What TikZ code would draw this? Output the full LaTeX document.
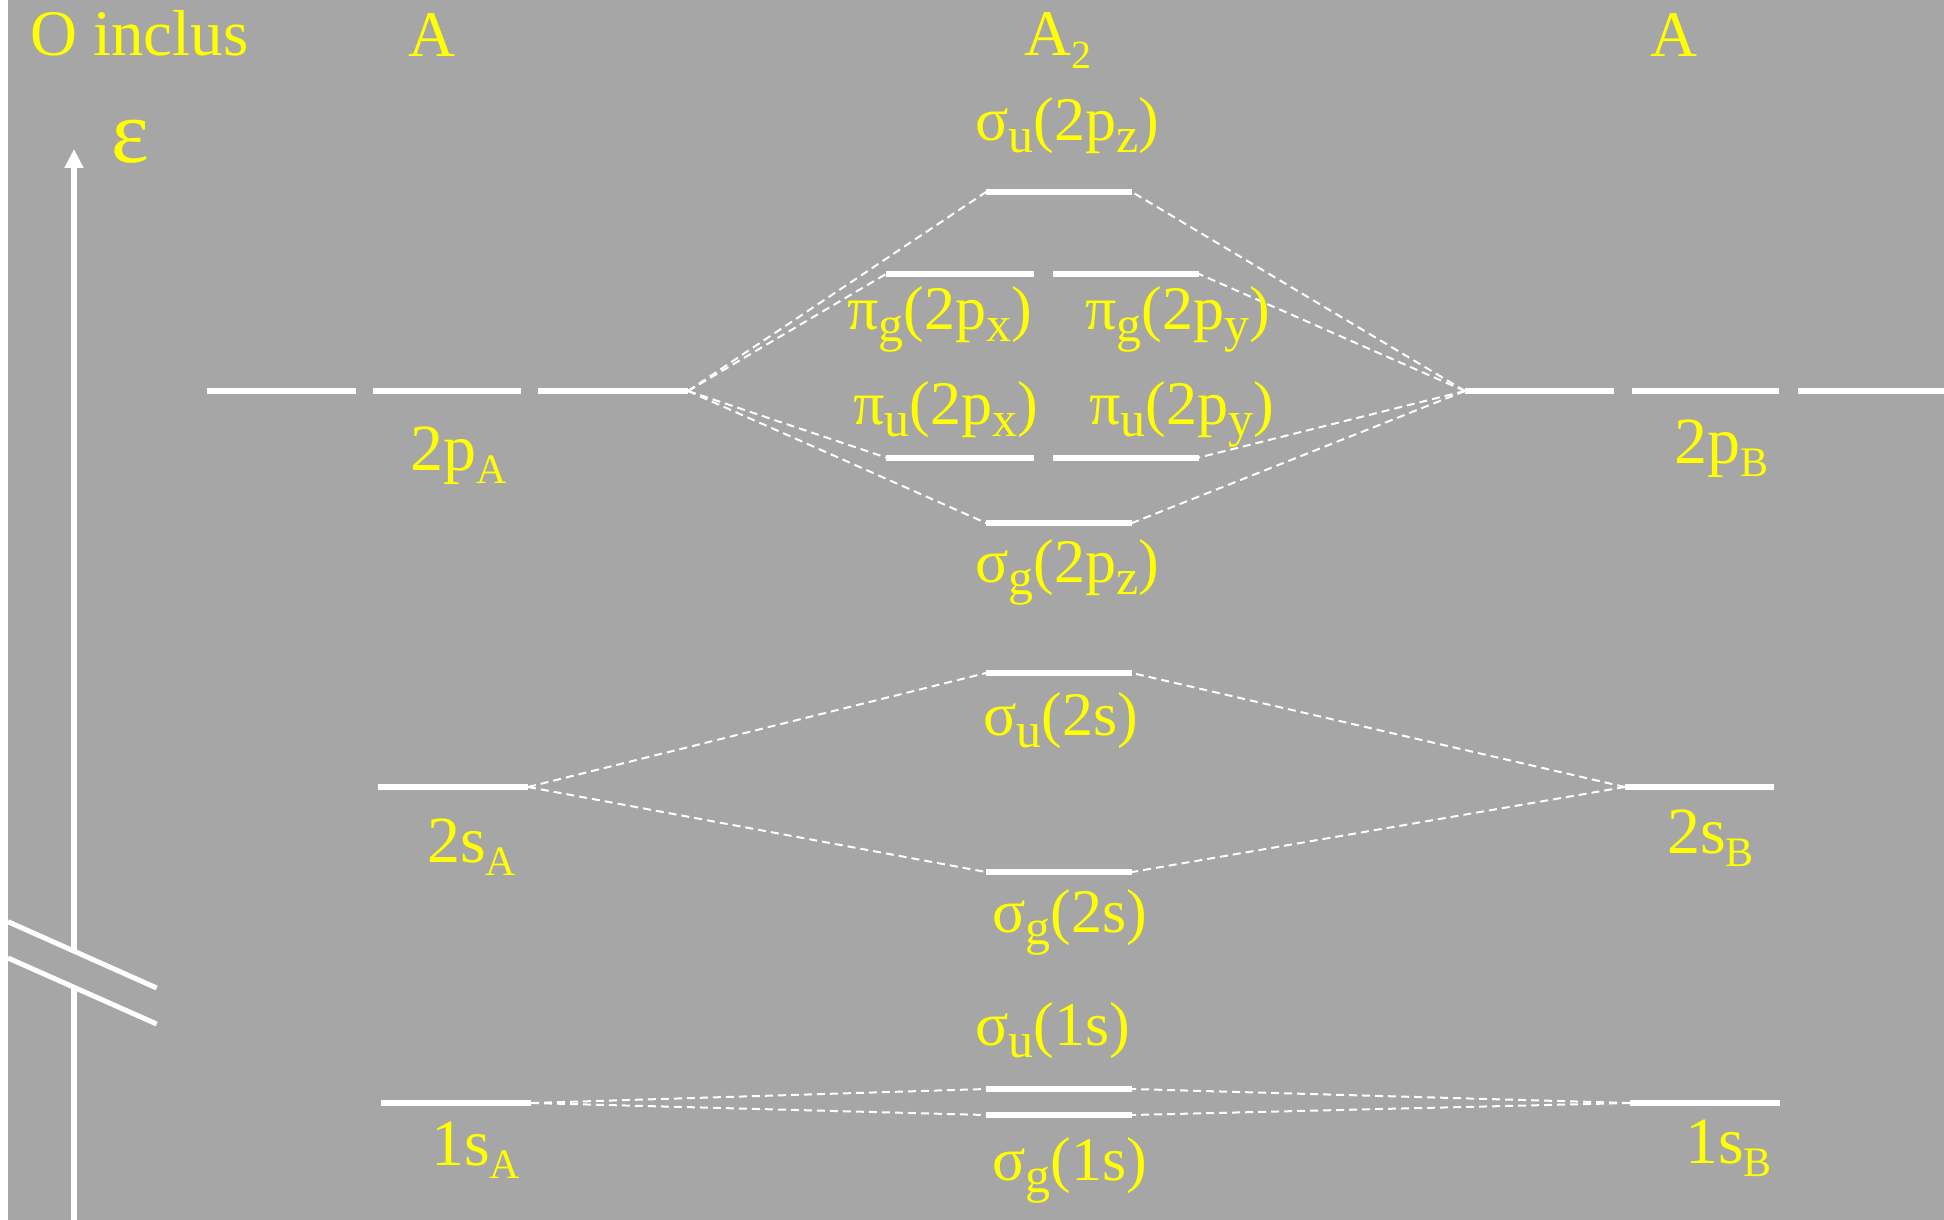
\documentclass[tikz,border=0pt]{standalone}
\usepackage{fontspec}
\setmainfont{Liberation Serif}
\usetikzlibrary{arrows.meta}

\definecolor{bggray}{RGB}{166,166,166}
\definecolor{yel}{RGB}{255,255,0}

% subscripts for the three text sizes
\newcommand\tsub[1]{\raisebox{-13pt}{\fontsize{40}{40}\selectfont #1}}
\newcommand\asub[1]{\raisebox{-13pt}{\fontsize{42}{42}\selectfont #1}}
\newcommand\msub[1]{\raisebox{-12pt}{\fontsize{50}{50}\selectfont #1}}

\tikzset{
  level/.style={draw=white, line width=6pt},
  link/.style={draw=white, line width=2pt, dash pattern=on 8pt off 5pt},
  title/.style={text=yel, inner sep=0pt, font=\fontsize{65}{70}\selectfont},
  aolabel/.style={text=yel, inner sep=0pt, anchor=base west, font=\fontsize{66}{68}\selectfont},
  molabel/.style={text=yel, inner sep=0pt, anchor=base west, font=\fontsize{62}{64}\selectfont},
}

\begin{document}
\begin{tikzpicture}[x=1pt, y=-1pt]
\useasboundingbox (0,0) rectangle (1944,1220);
\fill[white] (0,0) rectangle (1944,1220);
\fill[bggray] (8,0) rectangle (1944,1220);

% energy axis with its break
\coordinate (axtop) at (74,149);
\coordinate (axbrk1) at (74,951);
\coordinate (axbrk2) at (74,987.5);
\coordinate (axbot) at (74,1220);
\draw[white, line width=6pt, -{Triangle[length=19pt,width=18pt]}] (axbrk1) -- (axtop);
\draw[white, line width=6pt] (axbot) -- (axbrk2);
\draw[white, line width=5pt] (8,921.7) -- (156.7,988);
\draw[white, line width=5pt] (8,958) -- (156.7,1024);

% titles
\node[title, anchor=base west] (tO) at (30,56) {O inclus};
\node[title, anchor=base] (tA) at (432,57) {A};
\node[title, anchor=base west] (tA2) at (1024,56) {A\tsub{2}};
\node[title, anchor=base] (tB) at (1674,57) {A};
\node[text=yel, inner sep=0pt, anchor=base west, font=\fontsize{90}{90}\selectfont] (eps) at (111,163) {ε};

% atomic levels, A side
\coordinate (pA1L) at (207,391); \coordinate (pA1R) at (356,391);
\coordinate (pA2L) at (373,391); \coordinate (pA2R) at (521,391);
\coordinate (pA3L) at (538,391); \coordinate (pA) at (688,391);
\coordinate (sA2L) at (378,787); \coordinate (sA2) at (528,787);
\coordinate (sA1L) at (381,1103); \coordinate (sA1) at (531,1103);

% atomic levels, B side
\coordinate (pB) at (1465,391); \coordinate (pB1R) at (1614,391);
\coordinate (pB2L) at (1632,391); \coordinate (pB2R) at (1779,391);
\coordinate (pB3L) at (1798,391); \coordinate (pB3R) at (1944,391);
\coordinate (sB2) at (1625,787); \coordinate (sB2R) at (1774,787);
\coordinate (sB1) at (1630,1103); \coordinate (sB1R) at (1780,1103);

% molecular levels
\coordinate (supL) at (986,192);  \coordinate (supR) at (1132,192);
\coordinate (pgxL) at (886,274);  \coordinate (pgxR) at (1034,274);
\coordinate (pgyL) at (1053,274); \coordinate (pgyR) at (1199,274);
\coordinate (puxL) at (886,457.5); \coordinate (puxR) at (1034,457.5);
\coordinate (puyL) at (1053,457.5); \coordinate (puyR) at (1199,457.5);
\coordinate (sgpL) at (986,523);  \coordinate (sgpR) at (1132,523);
\coordinate (us2L) at (986,673);  \coordinate (us2R) at (1132,673);
\coordinate (gs2L) at (986,872);  \coordinate (gs2R) at (1132,872);
\coordinate (us1L) at (986,1089); \coordinate (us1R) at (1132,1089);
\coordinate (gs1L) at (986,1115); \coordinate (gs1R) at (1132,1115);

% correlation lines
\draw[link] (pA) -- (supL);
\draw[link] (pA) -- (pgxL);
\draw[link] (pA) -- (puxL);
\draw[link] (pA) -- (sgpL);
\draw[link] (pB) -- (supR);
\draw[link] (pB) -- (pgyR);
\draw[link] (pB) -- (puyR);
\draw[link] (pB) -- (sgpR);
\draw[link] (sA2) -- (us2L);
\draw[link] (sA2) -- (gs2L);
\draw[link] (sB2) -- (us2R);
\draw[link] (sB2) -- (gs2R);
\draw[link] (sA1) -- (us1L);
\draw[link] (sA1) -- (gs1L);
\draw[link] (sB1) -- (us1R);
\draw[link] (sB1) -- (gs1R);

% level bars
\draw[level] (pA1L) -- (pA1R);
\draw[level] (pA2L) -- (pA2R);
\draw[level] (pA3L) -- (pA);
\draw[level] (sA2L) -- (sA2);
\draw[level] (sA1L) -- (sA1);
\draw[level] (pB) -- (pB1R);
\draw[level] (pB2L) -- (pB2R);
\draw[level] (pB3L) -- (pB3R);
\draw[level] (sB2) -- (sB2R);
\draw[level] (sB1) -- (sB1R);
\draw[level] (supL) -- (supR);
\draw[level] (pgxL) -- (pgxR);
\draw[level] (pgyL) -- (pgyR);
\draw[level] (puxL) -- (puxR);
\draw[level] (puyL) -- (puyR);
\draw[level] (sgpL) -- (sgpR);
\draw[level] (us2L) -- (us2R);
\draw[level] (gs2L) -- (gs2R);
\draw[level] (us1L) -- (us1R);
\draw[level] (gs1L) -- (gs1R);

% atomic labels
\node[aolabel] (l2pA) at (410,470) {2p\asub{A}};
\node[aolabel] (l2pB) at (1674,463) {2p\asub{B}};
\node[aolabel] (l2sA) at (427,862) {2s\asub{A}};
\node[aolabel] (l2sB) at (1667,853) {2s\asub{B}};
\node[aolabel] (l1sA) at (431,1165) {1s\asub{A}};
\node[aolabel] (l1sB) at (1685,1163) {1s\asub{B}};

% molecular labels
\node[molabel] (lsup) at (975,141) {σ\msub{u}(2p\msub{z})};
\node[molabel] (lpgx) at (847,329) {π\msub{g}(2p\msub{x})};
\node[molabel] (lpgy) at (1085,329) {π\msub{g}(2p\msub{y})};
\node[molabel] (lpux) at (853,424) {π\msub{u}(2p\msub{x})};
\node[molabel] (lpuy) at (1089,424) {π\msub{u}(2p\msub{y})};
\node[molabel] (lsgp) at (975,582) {σ\msub{g}(2p\msub{z})};
\node[molabel] (lus2) at (983,735) {σ\msub{u}(2s)};
\node[molabel] (lgs2) at (992,932) {σ\msub{g}(2s)};
\node[molabel] (lus1) at (975,1045) {σ\msub{u}(1s)};
\node[molabel] (lgs1) at (992,1180) {σ\msub{g}(1s)};
\end{tikzpicture}
\end{document}
